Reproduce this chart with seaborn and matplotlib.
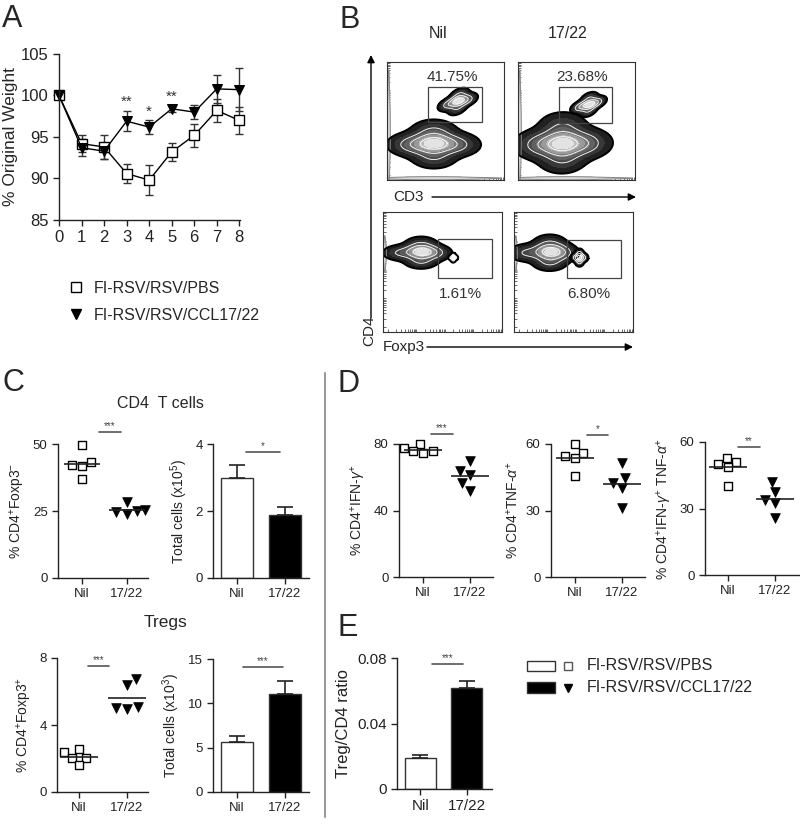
import numpy as np
import pandas as pd
import seaborn as sns
import matplotlib.pyplot as plt
from matplotlib.colors import LinearSegmentedColormap, ListedColormap
from matplotlib.lines import Line2D
from matplotlib.patches import FancyArrowPatch, Rectangle

# ---- panel A: weight loss ----
days = [0, 1, 2, 3, 4, 5, 6, 7, 8]
pbs_weight = [100, 94.2, 93.8, 90.6, 89.8, 93.2, 95.2, 98.2, 97.0]
pbs_sem = [0.3, 1.0, 1.4, 1.2, 1.8, 1.1, 1.4, 1.4, 1.6]
ccl_weight = [100, 93.7, 93.3, 96.9, 96.2, 98.4, 98.0, 100.8, 100.7]
ccl_sem = [0.3, 1.0, 0.9, 1.2, 0.8, 0.4, 0.8, 1.7, 2.6]
star_days = [3, 4, 5]
star_y = [99.3, 98.0, 99.9]
star_txt = ["**", "*", "**"]
legend_labels = ["FI-RSV/RSV/PBS", "FI-RSV/RSV/CCL17/22"]

# ---- panel B: flow plots, each population = (x, y, weight) event clusters in gate units ----
cd3_nil_pops = [
    [(0.61, 0.67, 4), (0.52, 0.64, 1.5), (0.69, 0.68, 1.5), (0.60, 0.60, 1), (0.62, 0.73, 1)],
    [(0.40, 0.31, 5), (0.20, 0.30, 2), (0.60, 0.30, 2), (0.40, 0.19, 1.5), (0.40, 0.42, 1.5)],
]
cd3_ccl_pops = [
    [(0.61, 0.64, 3), (0.53, 0.62, 1.5), (0.68, 0.66, 1.2), (0.60, 0.58, 0.8), (0.61, 0.70, 0.8)],
    [(0.38, 0.31, 5), (0.17, 0.30, 2), (0.59, 0.31, 2.2), (0.38, 0.17, 1.5), (0.38, 0.46, 1.5)],
]
fox_nil_pops = [
    [(0.32, 0.67, 5), (0.14, 0.66, 1.5), (0.44, 0.66, 1.5), (0.32, 0.59, 1.5), (0.32, 0.74, 1)],
    [(0.59, 0.62, 1), (0.57, 0.62, 1), (0.61, 0.62, 1), (0.59, 0.60, 1), (0.59, 0.64, 1)],
]
fox_ccl_pops = [
    [(0.30, 0.67, 5), (0.10, 0.66, 1.5), (0.40, 0.66, 1.5), (0.30, 0.58, 1.5), (0.30, 0.75, 1)],
    [(0.55, 0.62, 3), (0.51, 0.62, 1), (0.59, 0.62, 1), (0.55, 0.58, 1), (0.55, 0.66, 1)],
]
# faint events piled on the axes
cd3_strips = [
    [(0.015, 0.40, 1), (0.015, 0.12, 1), (0.015, 0.68, 1), (0.008, 0.40, 1), (0.022, 0.40, 1)],
    [(0.40, 0.015, 1), (0.10, 0.015, 1), (0.70, 0.015, 1), (0.40, 0.008, 1), (0.40, 0.022, 1)],
]
fox_strips = [
    [(0.015, 0.65, 1), (0.015, 0.57, 1), (0.015, 0.73, 1), (0.008, 0.65, 1), (0.022, 0.65, 1)],
]
gate_pcts = ["41.75%", "23.68%", "1.61%", "6.80%"]

# ---- panels C-E ----
groups = ["Nil", "17/22"]
cd4_nil = [49.6, 43.2, 42.2, 41.8, 36.8]
cd4_ccl = [28.5, 25.4, 24.7, 25.1, 23.9]
cd4_total = [3.0, 1.88]
cd4_total_sem = [0.37, 0.25]
treg_nil = [2.55, 2.37, 2.01, 2.01, 1.59]
treg_ccl = [6.73, 6.39, 5.0, 4.94, 5.06]
treg_total = [5.6, 11.1]
treg_total_sem = [0.7, 1.4]
ifn_nil = [80, 77.5, 75.5, 75.5, 74.5]
ifn_ccl = [69.5, 64, 61.5, 56.5, 52]
tnf_nil = [60, 56, 54.5, 53.5, 45.5]
tnf_ccl = [51.5, 44.5, 42.5, 40, 31]
dp_nil = [53, 51, 50, 48.5, 40]
dp_ccl = [42, 37.5, 34, 32.5, 25.5]
ratio = [0.019, 0.0615]
ratio_sem = [0.0015, 0.0045]

W, H = 800, 827
INK = "#222222"

sns.set_theme(style="ticks")
plt.rcParams["font.family"] = ["Liberation Sans", "DejaVu Sans"]
plt.rcParams["mathtext.fontset"] = "custom"
plt.rcParams["mathtext.rm"] = "Liberation Sans"
plt.rcParams["mathtext.it"] = "Liberation Sans:italic"
plt.rcParams["axes.edgecolor"] = INK
plt.rcParams["axes.linewidth"] = 1.0
plt.rcParams["xtick.color"] = INK
plt.rcParams["ytick.color"] = INK

fig = plt.figure(figsize=(8, 8.27), dpi=100)


def add_ax(l, t, r, b):
    return fig.add_axes([l / W, 1 - b / H, (r - l) / W, (b - t) / H])


def ftext(x, y, s, **kw):
    fig.text(x / W, 1 - y / H, s, **kw)


def arrow(x0, y0, x1, y1):
    fig.add_artist(FancyArrowPatch((x0 / W, 1 - y0 / H), (x1 / W, 1 - y1 / H),
                                   transform=fig.transFigure, arrowstyle="-|>",
                                   mutation_scale=11, lw=1, color="black",
                                   shrinkA=0, shrinkB=0))


# panel letters
for letter, x, y in [("A", 2, 4), ("B", 339, 5), ("C", 2, 368), ("D", 338, 369), ("E", 338, 613)]:
    ftext(x, y, letter, fontsize=22, va="top", ha="left")

# ---------------- A ----------------
axA = add_ax(59, 54, 240, 220)
axA.errorbar(days, pbs_weight, yerr=pbs_sem, fmt="none", ecolor="#333333",
             capsize=3, elinewidth=1, capthick=1, zorder=1, clip_on=False)
axA.errorbar(days, ccl_weight, yerr=ccl_sem, fmt="none", ecolor="#333333",
             capsize=3, elinewidth=1, capthick=1, zorder=1, clip_on=False)
sns.lineplot(x=days, y=pbs_weight, marker="s", markersize=6.5, markerfacecolor="white",
             markeredgecolor="black", markeredgewidth=1, color="black", lw=1,
             clip_on=False, ax=axA)
sns.lineplot(x=days, y=ccl_weight, marker="v", markersize=7.5, markerfacecolor="black",
             markeredgecolor="black", color="black", lw=1, clip_on=False, ax=axA)
for d, y, s in zip(star_days, star_y, star_txt):
    axA.text(d, y, s, ha="center", va="center", fontsize=11, color="#333333")
axA.set_xlim(0, 8.03)
axA.set_ylim(85, 105)
axA.set_xticks(days)
axA.set_yticks([85, 90, 95, 100, 105])
axA.tick_params(labelsize=12, length=4, width=1)
axA.set_ylabel("% Original Weight", fontsize=12.5, labelpad=2)
sns.despine(ax=axA)
handlesA = [
    Line2D([], [], ls="none", marker="s", ms=6.5, mfc="white", mec="black", mew=1),
    Line2D([], [], ls="none", marker="v", ms=7.5, mfc="black", mec="black"),
]
fig.legend(handlesA, legend_labels, loc="upper left", bbox_to_anchor=(66 / W, 1 - 281 / H),
           frameon=False, fontsize=11.5, handlelength=1.2, handletextpad=0.55,
           labelspacing=0.72, borderpad=0, borderaxespad=0)

# ---------------- B ----------------
ftext(438, 33, "Nil", ha="center", va="center", fontsize=11.5)
ftext(568, 33, "17/22", ha="center", va="center", fontsize=11.5)

flow_cmap = LinearSegmentedColormap.from_list("flow", ["#151515", "#7a7a7a", "#f6f6f6"])
log_ticks = sorted(set(round(d + 0.24 * np.log10(k), 3)
                       for d in (0.04, 0.28, 0.52, 0.76) for k in range(1, 10)
                       if d + 0.24 * np.log10(k) < 1))


def unpack(pop):
    return [p[0] for p in pop], [p[1] for p in pop], [p[2] for p in pop]


def flow_panel(box, pops, strips, gate, pct, pct_xy):
    ax = add_ax(*box)
    for pop in strips:
        xs, ys, ws = unpack(pop)
        sns.kdeplot(x=xs, y=ys, weights=ws, bw_method=0.8, ax=ax, gridsize=120,
                    fill=True, levels=[0.1, 1], cmap=ListedColormap(["#d9d9d9"]))
        sns.kdeplot(x=xs, y=ys, weights=ws, bw_method=0.8, ax=ax, gridsize=120,
                    fill=False, levels=[0.1], cmap=ListedColormap(["#888888"]), linewidths=0.7)
    for pop in pops:
        xs, ys, ws = unpack(pop)
        kw = dict(x=xs, y=ys, weights=ws, bw_method=0.8, ax=ax, gridsize=120)
        sns.kdeplot(fill=True, levels=9, thresh=0.05, cmap=flow_cmap, **kw)
        sns.kdeplot(fill=False, levels=[0.3, 0.55, 0.8], cmap=ListedColormap(["#ffffff"]),
                    linewidths=0.6, **kw)
        sns.kdeplot(fill=False, levels=[0.05], cmap=ListedColormap(["#000000"]),
                    linewidths=1.4, **kw)
    ax.add_patch(Rectangle((gate[0], gate[1]), gate[2] - gate[0], gate[3] - gate[1],
                           fill=False, ec="#444444", lw=0.9, zorder=5))
    ax.text(pct_xy[0], pct_xy[1], pct, ha="center", va="center", fontsize=11,
            color="#333333", transform=ax.transAxes)
    ax.set_xlim(0, 1)
    ax.set_ylim(0, 1)
    ax.set_xticks(log_ticks)
    ax.set_yticks(log_ticks)
    ax.set_xticklabels([])
    ax.set_yticklabels([])
    ax.set_xlabel("")
    ax.set_ylabel("")
    ax.tick_params(direction="in", length=2, width=0.6, color="#555555")
    for sp in ax.spines.values():
        sp.set_linewidth(0.8)
        sp.set_color("#333333")


flow_panel((387, 62, 504, 180), cd3_nil_pops, cd3_strips,
           (0.35, 0.49, 0.81, 0.79), gate_pcts[0], (0.56, 0.87))
flow_panel((518, 62, 635, 180), cd3_ccl_pops, cd3_strips,
           (0.35, 0.48, 0.80, 0.79), gate_pcts[1], (0.55, 0.87))
flow_panel((383, 212, 502, 332), fox_nil_pops, fox_strips,
           (0.46, 0.45, 0.92, 0.775), gate_pcts[2], (0.65, 0.32))
flow_panel((514, 212, 633, 332), fox_ccl_pops, fox_strips,
           (0.445, 0.45, 0.90, 0.77), gate_pcts[3], (0.63, 0.32))

arrow(371, 318, 371, 55)
arrow(432, 197, 636, 197)
arrow(427, 347, 633, 347)
ftext(393, 197, "CD3", ha="left", va="center", fontsize=11)
ftext(383, 347, "Foxp3", ha="left", va="center", fontsize=11)
ftext(369, 331, "CD4", ha="center", va="center", fontsize=11, rotation=90)

# ---------------- C, D, E ----------------


def style_small(ax, ylim, yticks, ylabel, xlim, yticklabels=None, fs=9.5, lfs=10):
    ax.set_xlim(*xlim)
    ax.set_ylim(*ylim)
    ax.set_yticks(yticks)
    if yticklabels is not None:
        ax.set_yticklabels(yticklabels)
    ax.set_xticks([0, 1])
    ax.set_xticklabels(groups)
    ax.set_xlabel("")
    ax.set_ylabel(ylabel, fontsize=lfs, color=INK)
    ax.tick_params(labelsize=fs, length=4, width=1)
    sns.despine(ax=ax)


def sig(ax, x0, x1, y, s, fs=7):
    ax.plot([x0, x1], [y, y], color="#555555", lw=1.2, clip_on=False)
    ax.annotate(s, xy=((x0 + x1) / 2, y), xytext=(0, 0.5), textcoords="offset points",
                ha="center", va="bottom", fontsize=fs, color="#444444",
                annotation_clip=False)


def dot_panel(box, nil, ccl, ylim, yticks, ylabel, xlim, sig_args):
    ax = add_ax(*box)
    df = pd.DataFrame({"group": [groups[0]] * len(nil) + [groups[1]] * len(ccl),
                       "value": nil + ccl})
    sns.swarmplot(data=df[df["group"] == groups[0]], x="group", y="value", order=groups,
                  marker="s", size=6, color="white", edgecolor="black", linewidth=1,
                  ax=ax, zorder=4)
    sns.swarmplot(data=df[df["group"] == groups[1]], x="group", y="value", order=groups,
                  marker="v", size=7, color="black", edgecolor="black", linewidth=0.5,
                  ax=ax, zorder=4)
    for coll in ax.collections:
        coll.set_clip_on(False)
    means = df.groupby("group")["value"].mean()
    for i, g in enumerate(groups):
        ax.hlines(means[g], i - 0.4, i + 0.4, color=INK, lw=1.2, zorder=5)
    style_small(ax, ylim, yticks, ylabel, xlim)
    sig(ax, *sig_args)
    return ax


def bar_panel(box, vals, sems, ylim, yticks, ylabel, xlim, sig_args,
              yticklabels=None, fs=9.5, lfs=10):
    ax = add_ax(*box)
    sns.barplot(x=groups, y=vals, hue=groups, palette=["white", "black"], edgecolor="#333333",
                linewidth=1, width=0.66, legend=False, ax=ax)
    ax.errorbar([0, 1], vals, yerr=[[0, 0], sems], fmt="none", ecolor=INK, capsize=5.5,
                elinewidth=1.2, capthick=1.2, zorder=3)
    style_small(ax, ylim, yticks, ylabel, xlim, yticklabels, fs, lfs)
    sig(ax, *sig_args)
    return ax


ftext(160, 403, "CD4  T cells", ha="center", va="center", fontsize=11.5)
ftext(165, 623, "Tregs", ha="center", va="center", fontsize=12.5)

dot_panel((58, 444, 148, 578), cd4_nil, cd4_ccl, (0, 50), [0, 25, 50],
          "% CD4$^{+}$Foxp3$^{-}$", (-0.53, 1.47), (0.38, 0.87, 54.5, "***"))
bar_panel((213, 444, 309, 578), cd4_total, cd4_total_sem, (0, 4), [0, 2, 4],
          "Total cells (x10$^{5}$)", (-0.5, 1.5), (0.19, 0.90, 3.76, "*"))
dot_panel((57, 658, 148, 792), treg_nil, treg_ccl, (0, 8), [0, 4, 8],
          "% CD4$^{+}$Foxp3$^{+}$", (-0.46, 1.44), (0.19, 0.63, 7.52, "***"))
bar_panel((213, 659, 309, 792), treg_total, treg_total_sem, (0, 15), [0, 5, 10, 15],
          "Total cells (x10$^{3}$)", (-0.5, 1.5), (0.12, 0.96, 14.1, "***"))

dot_panel((399, 444, 493, 577), ifn_nil, ifn_ccl, (0, 80), [0, 40, 80],
          "% CD4$^{+}$IFN-$\\gamma^{+}$", (-0.51, 1.49), (0.17, 0.64, 86, "***"))
dot_panel((551, 444, 645, 577), tnf_nil, tnf_ccl, (0, 60), [0, 30, 60],
          "% CD4$^{+}$TNF-$\\alpha^{+}$", (-0.51, 1.49), (0.26, 0.70, 64, "*"))
dot_panel((705, 442, 800, 575), dp_nil, dp_ccl, (0, 60), [0, 30, 60],
          "% CD4$^{+}$IFN-$\\gamma^{+}$ TNF-$\\alpha^{+}$", (-0.49, 1.53), (0.21, 0.68, 57.7, "**"))

bar_panel((397, 658, 492, 789), ratio, ratio_sem, (0, 0.08), [0, 0.04, 0.08],
          "Treg/CD4 ratio", (-0.5, 1.54), (0.25, 0.91, 0.0763, "***"),
          yticklabels=["0", "0.04", "0.08"], fs=11, lfs=12)

# legend for C-E
for (y0, y1, fc, mk, label) in [(661, 671, "white", "s", legend_labels[0]),
                                (682, 693, "black", "v", legend_labels[1])]:
    fig.add_artist(Rectangle((527 / W, 1 - y1 / H), 28 / W, (y1 - y0) / H,
                             transform=fig.transFigure, fc=fc, ec="#333333", lw=1))
    yc = (y0 + y1) / 2
    fig.add_artist(Line2D([568 / W], [1 - yc / H], transform=fig.transFigure, ls="none",
                          marker=mk, ms=6, mfc=fc, mec="#555555" if fc == "white" else "black",
                          mew=1))
    ftext(587, yc, label, ha="left", va="center", fontsize=11.5)

# divider between C and D/E
fig.add_artist(Line2D([325 / W, 325 / W], [1 - 373 / H, 1 - 817 / H],
                      transform=fig.transFigure, color="#999999", lw=1.5))

fig.savefig("out.png", dpi=100)
